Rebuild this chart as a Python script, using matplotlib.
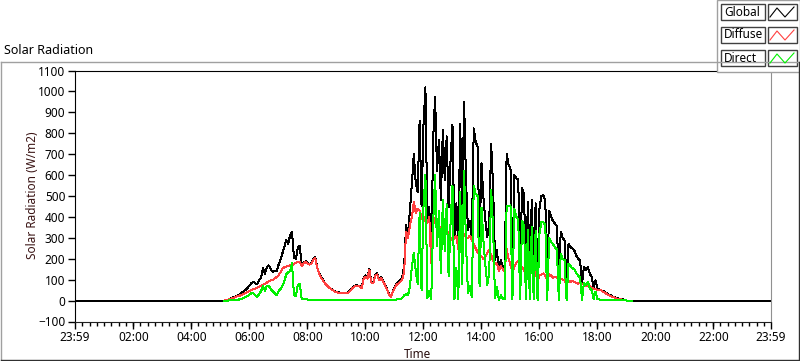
import matplotlib
matplotlib.use("Agg")
import matplotlib.pyplot as plt
from matplotlib.lines import Line2D
from matplotlib.patches import Rectangle
import numpy as np

plt.rcParams["font.family"] = ["Noto Sans", "DejaVu Sans"]

# Samples every 4 minutes from 05:08 to 19:12 (minutes after midnight)
DAY_START = 308
STEP = 4

GLOBAL = [
    0, 2, 5, 9, 13, 17, 21, 25, 30, 37, 45, 52, 60, 72, 84, 90, 82, 78, 98, 110,
    155, 128, 160, 168, 150, 138, 140, 140, 170, 195, 225, 255, 290, 270, 312, 328, 205, 200, 255, 262,
    172, 182, 188, 182, 175, 178, 198, 208, 160, 132, 113, 100, 84, 74, 66, 58, 52, 46, 42, 40,
    37, 36, 36, 37, 40, 48, 60, 68, 73, 72, 70, 62, 105, 120, 110, 152, 92, 85, 122, 130,
    100, 112, 96, 80, 57, 35, 18, 40, 62, 80, 88, 98, 112, 165, 360, 320, 430, 560, 700, 560,
    520, 860, 450, 840, 1020, 380, 447, 180, 770, 975, 620, 770, 480, 815, 575, 785, 445, 670, 840, 300,
    465, 250, 846, 383, 950, 575, 336, 383, 304, 823, 760, 734, 290, 656, 495, 383, 304, 370, 751, 543,
    193, 240, 145, 193, 161, 145, 700, 650, 630, 140, 600, 585, 580, 150, 540, 505, 129, 470, 145, 480,
    150, 465, 97, 441, 500, 503, 479, 97, 430, 400, 380, 369, 355, 100, 330, 300, 288, 83, 270, 256,
    250, 240, 215, 200, 193, 81, 160, 145, 161, 129, 113, 65, 97, 59, 52, 49, 45, 40, 33, 28,
    25, 18, 16, 12, 10, 8, 6, 3, 0, 0, 0, 0,
]

DIFFUSE = [
    0, 2, 5, 8, 11, 14, 18, 21, 24, 28, 32, 36, 40, 46, 50, 55, 58, 62, 66, 70,
    75, 80, 86, 92, 96, 98, 105, 112, 120, 135, 152, 160, 163, 165, 168, 170, 175, 180, 185, 185,
    165, 178, 184, 178, 172, 174, 194, 204, 157, 129, 110, 97, 82, 72, 64, 56, 50, 44, 40, 38,
    35, 34, 34, 35, 38, 46, 57, 65, 70, 69, 67, 60, 100, 115, 105, 146, 88, 82, 118, 125,
    96, 108, 92, 77, 55, 33, 17, 38, 58, 75, 82, 90, 100, 140, 330, 300, 360, 400, 470, 420,
    440, 430, 400, 380, 400, 370, 400, 178, 400, 370, 360, 340, 350, 330, 340, 320, 330, 300, 290, 295,
    310, 248, 320, 300, 320, 300, 300, 310, 290, 270, 250, 230, 220, 210, 200, 210, 230, 240, 220, 190,
    180, 175, 143, 165, 150, 140, 250, 200, 170, 138, 160, 180, 190, 148, 160, 145, 127, 130, 140, 130,
    145, 130, 95, 120, 125, 130, 120, 95, 125, 120, 110, 115, 110, 100, 105, 100, 95, 82, 95, 90,
    95, 90, 85, 80, 85, 80, 75, 72, 70, 68, 62, 58, 55, 52, 50, 48, 42, 37, 30, 25,
    22, 16, 14, 10, 8, 6, 4, 2, 0, 0, 0, 0,
]

DIRECT = [
    0, 0, 0, 1, 2, 3, 3, 4, 6, 9, 13, 18, 22, 28, 36, 34, 24, 17, 32, 45,
    70, 48, 72, 70, 55, 45, 35, 25, 45, 55, 70, 92, 125, 135, 140, 180, 25, 20, 75, 80,
    8, 6, 6, 5, 5, 5, 5, 5, 5, 5, 5, 5, 5, 4, 4, 4, 4, 4, 4, 3,
    3, 3, 3, 3, 3, 3, 3, 3, 3, 4, 3, 3, 4, 4, 3, 5, 3, 3, 4, 4,
    3, 3, 3, 3, 3, 2, 2, 3, 4, 5, 6, 8, 12, 25, 30, 25, 70, 160, 230, 140,
    80, 420, 50, 450, 600, 10, 45, 5, 370, 600, 260, 430, 130, 480, 235, 460, 115, 370, 550, 5,
    155, 5, 520, 80, 620, 270, 35, 70, 15, 550, 510, 500, 70, 445, 290, 170, 75, 130, 530, 350,
    10, 65, 3, 25, 10, 5, 450, 450, 455, 5, 440, 400, 390, 5, 380, 360, 5, 340, 5, 350,
    5, 335, 3, 320, 375, 375, 360, 3, 300, 280, 270, 255, 245, 3, 225, 200, 193, 3, 175, 165,
    155, 150, 130, 120, 110, 3, 85, 75, 90, 60, 50, 7, 42, 7, 5, 4, 4, 4, 4, 4,
    4, 3, 3, 3, 3, 3, 2, 2, 0, 0, 0, 0,
]

TICK_MINUTES = [-1, 120, 240, 360, 480, 600, 720, 840, 960, 1080, 1200, 1320, 1439]
TICK_LABELS = ["23:59", "02:00", "04:00", "06:00", "08:00", "10:00", "12:00",
               "14:00", "16:00", "18:00", "20:00", "22:00", "23:59"]

SERIES = ["Global", "Diffuse", "Direct"]
COLORS = {"Global": "#000000", "Diffuse": "#ff4040", "Direct": "#00f000"}

W, H = 800, 361


def fx(x):
    return x / W


def fy(y):
    return 1 - y / H


t_day = DAY_START + STEP * np.arange(len(GLOBAL))
t_full = np.concatenate([[-1], t_day, [1439]])
g_full = np.concatenate([[0], GLOBAL, [0]])

fig = plt.figure(figsize=(8, 3.61), dpi=100)
fig.patch.set_facecolor("white")

# outer graph frame
fig.add_artist(Line2D([fx(0.5), fx(799.5)], [fy(61.5), fy(61.5)], color="#a0a0a0", lw=1))
fig.add_artist(Line2D([fx(0.5), fx(0.5)], [fy(61.5), fy(360.5)], color="#a0a0a0", lw=1))
fig.add_artist(Line2D([fx(0.5), fx(799.5)], [fy(360.3), fy(360.3)], color="#303030", lw=1))
fig.add_artist(Line2D([fx(799.3), fx(799.3)], [fy(61.5), fy(360.5)], color="#303030", lw=1))

ax = fig.add_axes([fx(75), fy(321.5), fx(771) - fx(75), fy(70.5) - fy(321.5)])

ax.plot(t_full, g_full, color=COLORS["Global"], lw=0.72, antialiased=False)
ax.plot(t_day, DIFFUSE, color=COLORS["Diffuse"], lw=0.72, antialiased=False)
ax.plot(t_day, DIRECT, color=COLORS["Direct"], lw=0.72, antialiased=False)

ax.set_xlim(-1, 1439)
ax.set_ylim(-100, 1100)
ax.set_yticks(range(-100, 1101, 100))
ax.set_xticks(TICK_MINUTES)
ax.set_xticklabels(TICK_LABELS)
ax.set_xticks(np.arange(14, 1439, 15), minor=True)

ax.tick_params(axis="both", which="major", direction="out", length=5, width=1,
               labelsize=8.5, colors="#000000", pad=2)
ax.tick_params(axis="x", which="minor", direction="out", length=3, width=1, colors="#000000")
for side in ["left", "top"]:
    ax.spines[side].set_color("#000000")
ax.spines["right"].set_color("#909090")
ax.spines["bottom"].set_color("#202020")

fig.text(fx(4), fy(50), "Solar Radiation", fontsize=9, ha="left", va="center", color="#000000")
fig.text(fx(32), fy(195), "Solar Radiation (W/m2)", fontsize=8.5, rotation=90,
         ha="center", va="center", color="#3a1414")
fig.text(fx(418), fy(354), "Time", fontsize=8.5, ha="center", va="center", color="#2a1010")

# legend panel in the top right corner
fig.add_artist(Rectangle((fx(717), fy(72)), fx(800) - fx(717), fy(0) - fy(72),
                         facecolor="white", edgecolor="#a0a0a0", lw=1))
rows = [4, 27, 50]
for name, top in zip(SERIES, rows):
    fig.add_artist(Rectangle((fx(721), fy(top + 16)), fx(44), fy(0) - fy(16),
                             facecolor="white", edgecolor="#404040", lw=1))
    fig.text(fx(724), fy(top + 8), name, fontsize=8.5, ha="left", va="center")
    fig.add_artist(Rectangle((fx(768), fy(top + 16)), fx(29), fy(0) - fy(16),
                             facecolor="white", edgecolor="#404040", lw=1))
    zx = [770, 777, 785, 794]
    zy = [top + 13, top + 4, top + 13, top + 3]
    fig.add_artist(Line2D([fx(v) for v in zx], [fy(v) for v in zy],
                          color=COLORS[name], lw=0.8))

plt.savefig("out.png", dpi=100, facecolor="white")
